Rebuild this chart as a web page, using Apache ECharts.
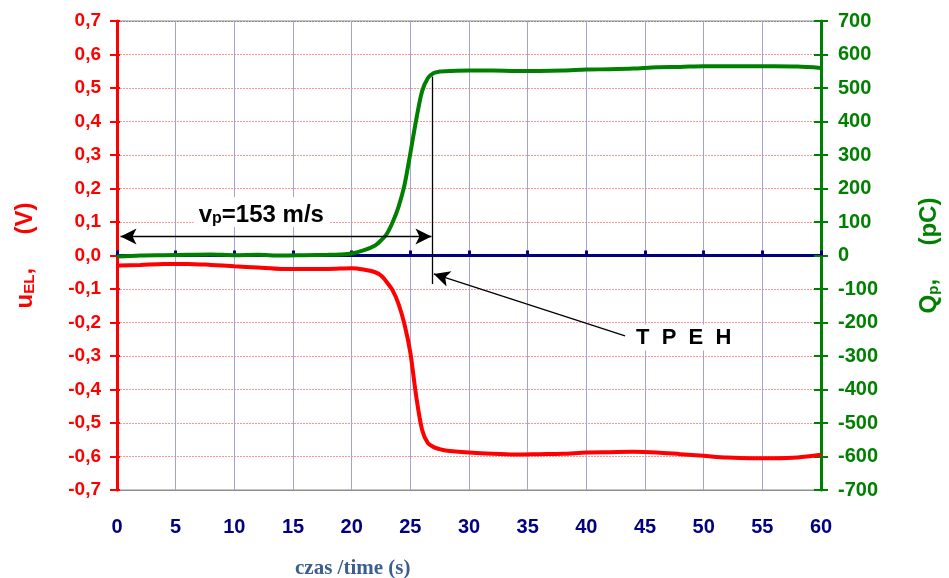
<!DOCTYPE html>
<html>
<head>
<meta charset="utf-8">
<script src="https://cdn.jsdelivr.net/npm/echarts@6/dist/echarts.min.js"></script>
<style>
  html, body { margin: 0; padding: 0; background: #fff; }
  #chart { width: 949px; height: 578px; }
</style>
</head>
<body>
<div id="chart"></div>
<script>
const timeQ = [0, 2, 4, 6, 8, 10, 12, 14, 16, 18, 19, 20, 21, 22, 22.5, 23, 23.5, 24, 24.5, 25, 25.5, 26, 26.5, 27, 27.5, 28, 30, 32, 34, 36, 38, 40, 42, 44, 46, 48, 50, 52, 54, 56, 58, 60]
const chargeQ = [-3, 0, 1, 2, 3, 1, 2, 0, 1, 2, 3, 6, 15, 30, 45, 65, 100, 146, 210, 305, 405, 490, 530, 545, 549, 550, 552, 552, 551, 551, 552, 555, 556, 558, 562, 563, 565, 565, 565, 565, 564, 560]

const timeU = [0, 2, 4, 6, 8, 10, 12, 14, 16, 18, 20, 21, 22, 22.5, 23, 23.5, 24, 24.5, 25, 25.5, 26, 26.5, 27, 27.5, 28, 30, 32, 34, 36, 38, 40, 42, 44, 46, 48, 50, 52, 54, 56, 58, 60]
const voltU = [-0.03, -0.028, -0.025, -0.025, -0.028, -0.032, -0.036, -0.04, -0.04, -0.04, -0.038, -0.042, -0.05, -0.06, -0.08, -0.105, -0.145, -0.205, -0.29, -0.42, -0.52, -0.56, -0.572, -0.578, -0.582, -0.588, -0.592, -0.594, -0.593, -0.592, -0.588, -0.587, -0.586, -0.588, -0.593, -0.598, -0.603, -0.605, -0.605, -0.603, -0.595]

// annotations (data coords: time s, volts)
const speedArrow = [[0.3, 0.057], [26.8, 0.057]]
const markerLine = [[26.9, 0.534], [26.9, -0.085]]
const tpehArrow = [[43.3, -0.24], [27.0, -0.055]]
const speedText = [12.3, 0.13]
const tpehText = [48.3, -0.245]

const RED = '#ff0000', GREEN = '#008000', NAVY = '#000080'

const myChart = echarts.init(document.getElementById('chart'))

const hGrid = []
for (let i = 0; i <= 14; i++) hGrid.push(i === 0 || i === 14 ? '#8c8c8c' : 'rgba(255,60,60,0.55)')

myChart.setOption({
    animation: false,
    title: {
        text: 'czas /time (s)',
        left: 290,
        top: 553,
        textStyle: {fontFamily: 'Liberation Serif', fontWeight: 'bold', fontSize: 21, color: '#3b5f90'}
    },
    grid: {
        left: 117, right: 125, top: 21, bottom: 88,
        show: true, borderColor: '#8c8c8c', borderWidth: 1
    },
    xAxis: [
        {
            type: 'value', min: 0, max: 60, interval: 5,
            axisLine: {onZero: false, lineStyle: {color: '#8c8c8c', width: 1}},
            axisTick: {show: false},
            axisLabel: {
                margin: 27, color: NAVY, fontWeight: 'bold', fontSize: 20,
                fontFamily: "'Liberation Sans Narrow', 'Liberation Sans', Arial"
            },
            splitLine: {show: true, lineStyle: {color: '#a3a3d6', width: 1}}
        },
        {
            type: 'value', min: 0, max: 60, interval: 5,
            axisLine: {onZero: true, onZeroAxisIndex: 0, lineStyle: {color: NAVY, width: 3}},
            axisTick: {show: true, length: 5, lineStyle: {color: NAVY, width: 3}},
            axisLabel: {show: false},
            splitLine: {show: false}
        }
    ],
    yAxis: [
        {
            type: 'value', position: 'left', min: -0.7, max: 0.7, interval: 0.1,
            name: '{m|u}{s|EL}{m|,     (V)}',
            nameLocation: 'middle', nameRotate: 90, nameGap: 80,
            nameTextStyle: {
                rich: {
                    m: {fontSize: 24, fontWeight: 'bold', color: RED, fontFamily: 'Liberation Sans', verticalAlign: 'bottom', lineHeight: 28},
                    s: {fontSize: 15, fontWeight: 'bold', color: RED, fontFamily: 'Liberation Sans', verticalAlign: 'bottom', lineHeight: 16}
                }
            },
            axisLine: {show: true, onZero: false, lineStyle: {color: RED, width: 3}},
            axisTick: {show: true, length: 7, lineStyle: {color: RED, width: 2}},
            axisLabel: {
                margin: 16, color: RED, fontWeight: 'bold', fontSize: 19, fontFamily: 'Liberation Sans',
                formatter: v => (Math.abs(v) < 1e-9 ? 0 : v).toFixed(1).replace('.', ',')
            },
            splitLine: {show: true, lineStyle: {color: hGrid, width: 1, type: [2, 1]}}
        },
        {
            type: 'value', position: 'right', min: -700, max: 700, interval: 100,
            name: '{m|Q}{s|p}{m|,     (pC)}',
            nameLocation: 'middle', nameRotate: 90, nameGap: 92,
            nameTextStyle: {
                rich: {
                    m: {fontSize: 24, fontWeight: 'bold', color: GREEN, fontFamily: 'Liberation Sans', verticalAlign: 'bottom', lineHeight: 28},
                    s: {fontSize: 15, fontWeight: 'bold', color: GREEN, fontFamily: 'Liberation Sans', verticalAlign: 'bottom', lineHeight: 16}
                }
            },
            axisLine: {show: true, onZero: false, lineStyle: {color: GREEN, width: 3}},
            axisTick: {show: true, length: 7, lineStyle: {color: GREEN, width: 2}},
            axisLabel: {margin: 17, color: GREEN, fontWeight: 'bold', fontSize: 20, fontFamily: 'Liberation Sans'},
            splitLine: {show: false}
        },
        // inner halves of the crossing ticks
        {
            type: 'value', position: 'left', min: -0.7, max: 0.7, interval: 0.1,
            axisLine: {show: false, onZero: false},
            axisTick: {show: true, inside: true, length: 3, lineStyle: {color: RED, width: 2}},
            axisLabel: {show: false}, splitLine: {show: false}
        },
        {
            type: 'value', position: 'right', min: -700, max: 700, interval: 100,
            axisLine: {show: false, onZero: false},
            axisTick: {show: true, inside: true, length: 7, lineStyle: {color: GREEN, width: 2}},
            axisLabel: {show: false}, splitLine: {show: false}
        }
    ],
    series: [
        {
            name: 'Q_p',
            type: 'line',
            yAxisIndex: 1,
            data: timeQ.map((t, i) => [t, chargeQ[i]]),
            symbol: 'none',
            smooth: 0.3,
            lineStyle: {color: GREEN, width: 4},
            z: 3
        },
        {
            name: 'u_EL',
            type: 'line',
            yAxisIndex: 0,
            data: timeU.map((t, i) => [t, voltU[i]]),
            symbol: 'none',
            smooth: 0.3,
            lineStyle: {color: RED, width: 4},
            z: 3,
            markLine: {
                silent: true,
                animation: false,
                label: {show: false},
                lineStyle: {color: '#000', width: 1.3, type: 'solid'},
                data: [
                    [
                        {coord: speedArrow[0], symbol: 'arrow', symbolSize: [12, 16]},
                        {coord: speedArrow[1], symbol: 'arrow', symbolSize: [12, 16]}
                    ],
                    [
                        {coord: markerLine[0], symbol: 'none'},
                        {coord: markerLine[1], symbol: 'none'}
                    ],
                    [
                        {coord: tpehArrow[0], symbol: 'none'},
                        {coord: tpehArrow[1], symbol: 'arrow', symbolSize: [12, 16]}
                    ]
                ]
            },
            markPoint: {
                silent: true,
                animation: false,
                symbol: 'rect',
                symbolSize: 0,
                data: [
                    {
                        coord: speedText,
                        label: {
                            show: true, position: 'inside',
                            formatter: '{a|v}{b|p}{a|=153 m/s}',
                            backgroundColor: '#fff', padding: [2, 5, 0, 5],
                            rich: {
                                a: {fontSize: 24, fontWeight: 'bold', color: '#000', fontFamily: 'Liberation Sans', verticalAlign: 'bottom', lineHeight: 28},
                                b: {fontSize: 16, fontWeight: 'bold', color: '#000', fontFamily: 'Liberation Sans', verticalAlign: 'bottom', lineHeight: 14}
                            }
                        }
                    },
                    {
                        coord: tpehText,
                        label: {
                            show: true, position: 'inside',
                            formatter: 'T  P  E  H',
                            backgroundColor: '#fff', padding: [2, 6, 2, 6],
                            fontSize: 22, fontWeight: 'bold', color: '#000', fontFamily: 'Liberation Sans'
                        }
                    }
                ]
            }
        }
    ]
})
window.addEventListener('resize', myChart.resize)
</script>
</body>
</html>
